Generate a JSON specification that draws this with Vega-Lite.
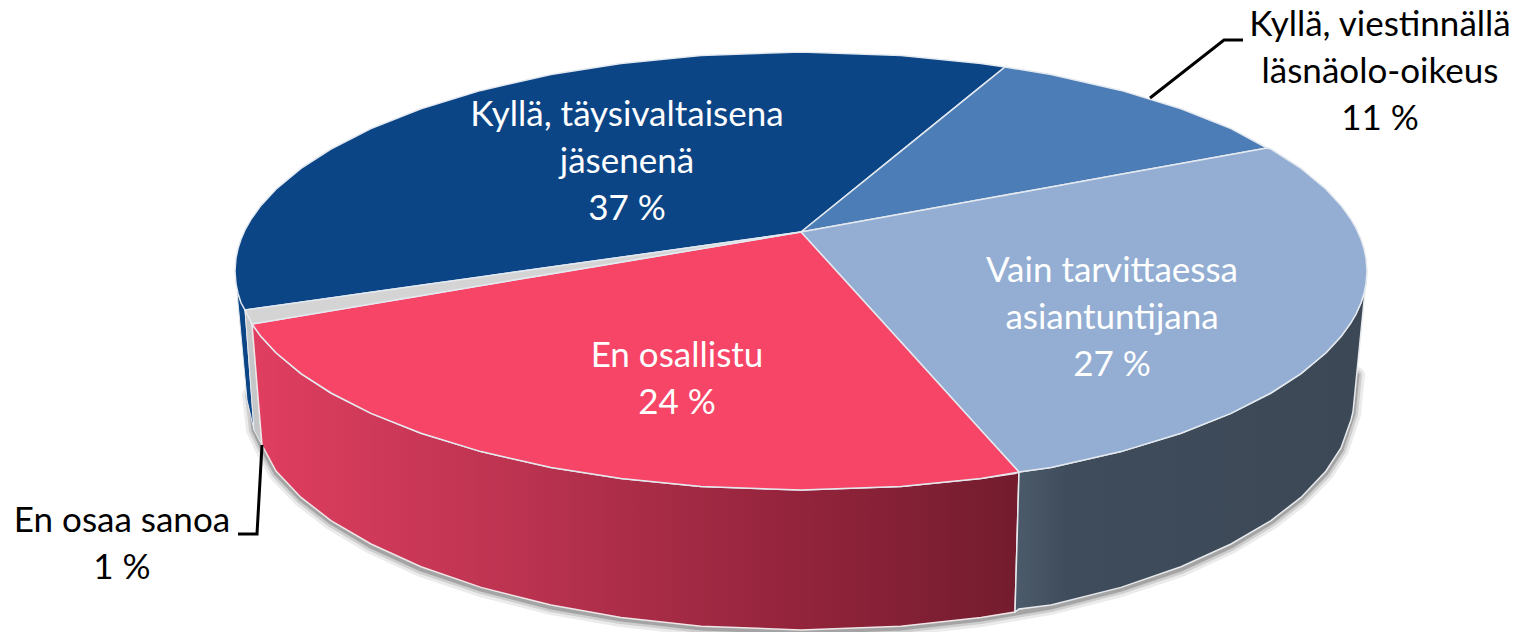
{"$schema":"https://vega.github.io/schema/vega-lite/v6.json","autosize":{"type":"none"},"width":1514,"height":632,"padding":0,"background":"white","config":{"view":{"stroke":null}},
"datasets":{
"faces":[
{"slice":"Kyllä, täysivaltaisena jäsenenä","x":235,"top":271,"bottom":271},{"slice":"Kyllä, täysivaltaisena jäsenenä","x":236,"top":258,"bottom":284},{"slice":"Kyllä, täysivaltaisena jäsenenä","x":238,"top":248.5,"bottom":293.5},{"slice":"Kyllä, täysivaltaisena jäsenenä","x":241,"top":239.2,"bottom":302.8},{"slice":"Kyllä, täysivaltaisena jäsenenä","x":245,"top":230,"bottom":310},{"slice":"Kyllä, täysivaltaisena jäsenenä","x":251,"top":219.3,"bottom":309.2},{"slice":"Kyllä, täysivaltaisena jäsenenä","x":261,"top":205.4,"bottom":307.8},{"slice":"Kyllä, täysivaltaisena jäsenenä","x":276,"top":189.2,"bottom":305.7},{"slice":"Kyllä, täysivaltaisena jäsenenä","x":301,"top":168.4,"bottom":302.2},{"slice":"Kyllä, täysivaltaisena jäsenenä","x":331,"top":149,"bottom":297.9},{"slice":"Kyllä, täysivaltaisena jäsenenä","x":371,"top":128.6,"bottom":292.3},{"slice":"Kyllä, täysivaltaisena jäsenenä","x":421,"top":108.7,"bottom":285.3},{"slice":"Kyllä, täysivaltaisena jäsenenä","x":481,"top":90.4,"bottom":276.9},{"slice":"Kyllä, täysivaltaisena jäsenenä","x":551,"top":74.5,"bottom":267.1},{"slice":"Kyllä, täysivaltaisena jäsenenä","x":621,"top":63.4,"bottom":257.3},{"slice":"Kyllä, täysivaltaisena jäsenenä","x":701,"top":55.4,"bottom":246},{"slice":"Kyllä, täysivaltaisena jäsenenä","x":801,"top":52,"bottom":232},{"slice":"Kyllä, täysivaltaisena jäsenenä","x":901,"top":55.4,"bottom":151.1},{"slice":"Kyllä, täysivaltaisena jäsenenä","x":981,"top":63.4,"bottom":86.4},{"slice":"Kyllä, täysivaltaisena jäsenenä","x":1005,"top":67,"bottom":67},
{"slice":"Kyllä, viestinnällä läsnäolo-oikeus","x":801,"top":232,"bottom":232},{"slice":"Kyllä, viestinnällä läsnäolo-oikeus","x":901,"top":151.1,"bottom":214},{"slice":"Kyllä, viestinnällä läsnäolo-oikeus","x":981,"top":86.4,"bottom":199.6},{"slice":"Kyllä, viestinnällä läsnäolo-oikeus","x":1005,"top":67,"bottom":195.2},{"slice":"Kyllä, viestinnällä läsnäolo-oikeus","x":1051,"top":74.5,"bottom":186.9},{"slice":"Kyllä, viestinnällä läsnäolo-oikeus","x":1121,"top":90.4,"bottom":174.3},{"slice":"Kyllä, viestinnällä läsnäolo-oikeus","x":1181,"top":108.7,"bottom":163.5},{"slice":"Kyllä, viestinnällä läsnäolo-oikeus","x":1231,"top":128.6,"bottom":154.5},{"slice":"Kyllä, viestinnällä läsnäolo-oikeus","x":1267,"top":148,"bottom":148},
{"slice":"Vain tarvittaessa asiantuntijana","x":801,"top":232,"bottom":232},{"slice":"Vain tarvittaessa asiantuntijana","x":901,"top":214,"bottom":342.1},{"slice":"Vain tarvittaessa asiantuntijana","x":981,"top":199.6,"bottom":430.2},{"slice":"Vain tarvittaessa asiantuntijana","x":1019,"top":192.7,"bottom":472},{"slice":"Vain tarvittaessa asiantuntijana","x":1051,"top":186.9,"bottom":467.5},{"slice":"Vain tarvittaessa asiantuntijana","x":1121,"top":174.3,"bottom":451.6},{"slice":"Vain tarvittaessa asiantuntijana","x":1181,"top":163.5,"bottom":433.3},{"slice":"Vain tarvittaessa asiantuntijana","x":1231,"top":154.5,"bottom":413.4},{"slice":"Vain tarvittaessa asiantuntijana","x":1267,"top":148,"bottom":395},{"slice":"Vain tarvittaessa asiantuntijana","x":1271,"top":149,"bottom":393},{"slice":"Vain tarvittaessa asiantuntijana","x":1301,"top":168.4,"bottom":373.6},{"slice":"Vain tarvittaessa asiantuntijana","x":1326,"top":189.2,"bottom":352.8},{"slice":"Vain tarvittaessa asiantuntijana","x":1341,"top":205.4,"bottom":336.6},{"slice":"Vain tarvittaessa asiantuntijana","x":1351,"top":219.3,"bottom":322.7},{"slice":"Vain tarvittaessa asiantuntijana","x":1356,"top":228,"bottom":314},{"slice":"Vain tarvittaessa asiantuntijana","x":1361,"top":239.2,"bottom":302.8},{"slice":"Vain tarvittaessa asiantuntijana","x":1364,"top":248.5,"bottom":293.5},{"slice":"Vain tarvittaessa asiantuntijana","x":1366,"top":258,"bottom":284},{"slice":"Vain tarvittaessa asiantuntijana","x":1367,"top":271,"bottom":271},
{"slice":"En osallistu","x":252,"top":324,"bottom":324},{"slice":"En osallistu","x":261,"top":322.5,"bottom":336.6},{"slice":"En osallistu","x":276,"top":320,"bottom":352.8},{"slice":"En osallistu","x":301,"top":315.8,"bottom":373.6},{"slice":"En osallistu","x":331,"top":310.8,"bottom":393},{"slice":"En osallistu","x":371,"top":304.1,"bottom":413.4},{"slice":"En osallistu","x":421,"top":295.7,"bottom":433.3},{"slice":"En osallistu","x":481,"top":285.6,"bottom":451.6},{"slice":"En osallistu","x":551,"top":273.9,"bottom":467.5},{"slice":"En osallistu","x":621,"top":262.2,"bottom":478.6},{"slice":"En osallistu","x":701,"top":248.8,"bottom":486.6},{"slice":"En osallistu","x":801,"top":232,"bottom":490},{"slice":"En osallistu","x":901,"top":342.1,"bottom":486.6},{"slice":"En osallistu","x":981,"top":430.2,"bottom":478.6},{"slice":"En osallistu","x":1019,"top":472,"bottom":472},
{"slice":"En osaa sanoa","x":245,"top":310,"bottom":310},{"slice":"En osaa sanoa","x":252,"top":309,"bottom":324},{"slice":"En osaa sanoa","x":801,"top":232,"bottom":232}],
"wallRed":[{"x":252,"top":324,"bottom":324},{"x":261,"top":336.6,"bottom":433},{"x":262,"top":337.6,"bottom":445},{"x":276,"top":352.8,"bottom":471},{"x":301,"top":373.6,"bottom":497.4},{"x":331,"top":393,"bottom":520.6},{"x":371,"top":413.4,"bottom":544},{"x":421,"top":433.3,"bottom":566.8},{"x":481,"top":451.6,"bottom":587.4},{"x":551,"top":467.5,"bottom":605},{"x":621,"top":478.6,"bottom":617.4},{"x":701,"top":486.6,"bottom":626.2},{"x":801,"top":490,"bottom":630},{"x":901,"top":486.6,"bottom":626.2},{"x":981,"top":478.6,"bottom":617.4},{"x":1015,"top":473.6,"bottom":612},{"x":1019,"top":472,"bottom":472}],
"wallDark":[{"x":1015,"top":612,"bottom":612},{"x":1019,"top":472,"bottom":609},{"x":1051,"top":467.5,"bottom":605},{"x":1121,"top":451.6,"bottom":587.4},{"x":1181,"top":433.3,"bottom":566.8},{"x":1231,"top":413.4,"bottom":544},{"x":1271,"top":393,"bottom":520.6},{"x":1301,"top":373.6,"bottom":497.4},{"x":1326,"top":352.8,"bottom":471},{"x":1341,"top":336.6,"bottom":448},{"x":1351,"top":322.7,"bottom":420},{"x":1353,"top":319,"bottom":412},{"x":1356,"top":314,"bottom":381.8},{"x":1361,"top":302.8,"bottom":331.4},{"x":1364,"top":293.5,"bottom":301.2},{"x":1366,"top":284,"bottom":281},{"x":1367,"top":271,"bottom":271}],
"wallGray":[{"x":245,"top":310,"bottom":310},{"x":252,"top":324,"bottom":403},{"x":254,"top":348,"bottom":430},{"x":262,"top":445,"bottom":445}],
"wallBlue":[{"x":237,"top":292,"bottom":292},{"x":245,"top":310,"bottom":378},{"x":247,"top":336.7,"bottom":400},{"x":254,"top":430,"bottom":430}],
"edge":[{"step":1,"x":250,"y":395},{"step":2,"x":254,"y":430},{"step":3,"x":262,"y":447},{"step":4,"x":276,"y":473},{"step":5,"x":301,"y":499},{"step":6,"x":331,"y":522},{"step":7,"x":371,"y":546},{"step":8,"x":421,"y":569},{"step":9,"x":481,"y":589},{"step":10,"x":551,"y":607},{"step":11,"x":621,"y":619},{"step":12,"x":701,"y":628},{"step":13,"x":801,"y":632},{"step":14,"x":901,"y":628},{"step":15,"x":981,"y":619},{"step":16,"x":1051,"y":607},{"step":17,"x":1121,"y":589},{"step":18,"x":1181,"y":569},{"step":19,"x":1231,"y":546},{"step":20,"x":1271,"y":522},{"step":21,"x":1301,"y":499},{"step":22,"x":1326,"y":473},{"step":23,"x":1341,"y":450},{"step":24,"x":1353,"y":414},{"step":25,"x":1357,"y":375}],
"leaders":[{"label":"Kyllä, viestinnällä","step":1,"x":1150,"y":98},{"label":"Kyllä, viestinnällä","step":2,"x":1224,"y":40},{"label":"Kyllä, viestinnällä","step":3,"x":1243,"y":40},{"label":"En osaa sanoa","step":1,"x":262,"y":445},{"label":"En osaa sanoa","step":2,"x":257,"y":534},{"label":"En osaa sanoa","step":3,"x":238,"y":534}],
"labelsIn":[{"label":"Kyllä, täysivaltaisena\njäsenenä\n37 %","x":627,"y":115},{"label":"Vain tarvittaessa\nasiantuntijana\n27 %","x":1112,"y":271},{"label":"En osallistu\n24 %","x":677,"y":356}],
"labelsOut":[{"label":"Kyllä, viestinnällä\nläsnäolo-oikeus\n11 %","x":1380,"y":25},{"label":"En osaa sanoa\n1 %","x":122,"y":521}]},
"encoding":{"x":{"field":"x","type":"quantitative","scale":{"domain":[0,1514],"nice":false,"zero":false},"axis":null}},
"layer":[
{"data":{"name":"edge"},"mark":{"type":"line","stroke":"#000","opacity":0.08,"strokeWidth":16,"strokeCap":"round"},"encoding":{"y":{"field":"y","type":"quantitative","scale":{"domain":[632,0],"nice":false,"zero":false},"axis":null},"order":{"field":"step"}}},
{"data":{"name":"edge"},"mark":{"type":"line","stroke":"#000","opacity":0.12,"strokeWidth":10,"strokeCap":"round"},"encoding":{"y":{"field":"y","type":"quantitative","scale":{"domain":[632,0],"nice":false,"zero":false},"axis":null},"order":{"field":"step"}}},
{"data":{"name":"edge"},"mark":{"type":"line","stroke":"#000","opacity":0.2,"strokeWidth":5,"strokeCap":"round"},"encoding":{"y":{"field":"y","type":"quantitative","scale":{"domain":[632,0],"nice":false,"zero":false},"axis":null},"order":{"field":"step"}}},
{"data":{"name":"wallBlue"},"mark":{"type":"area","fill":"#0b4586","stroke":"#e6e9ee","strokeWidth":1},"encoding":{"y":{"field":"top","type":"quantitative","scale":{"domain":[632,0],"nice":false,"zero":false},"axis":null},"y2":{"field":"bottom"}}},
{"data":{"name":"wallGray"},"mark":{"type":"area","fill":"#c4c6c8","stroke":"#e6e9ee","strokeWidth":1},"encoding":{"y":{"field":"top","type":"quantitative","scale":{"domain":[632,0],"nice":false,"zero":false},"axis":null},"y2":{"field":"bottom"}}},
{"data":{"name":"wallRed"},"mark":{"type":"area","fill":{"gradient":"linear","x1":0,"y1":0,"x2":1,"y2":0,"stops":[{"offset":0,"color":"#e03e60"},{"offset":0.35,"color":"#bb3350"},{"offset":0.7,"color":"#94243c"},{"offset":1,"color":"#731c2e"}]},"stroke":"#f0e6e8","strokeWidth":1.5},"encoding":{"y":{"field":"top","type":"quantitative","scale":{"domain":[632,0],"nice":false,"zero":false},"axis":null},"y2":{"field":"bottom"}}},
{"data":{"name":"wallDark"},"mark":{"type":"area","fill":{"gradient":"linear","x1":0,"y1":0,"x2":1,"y2":0,"stops":[{"offset":0,"color":"#4c5b6b"},{"offset":0.15,"color":"#3f4c5b"},{"offset":1,"color":"#3c4856"}]},"stroke":"#e8ebee","strokeWidth":1.5},"encoding":{"y":{"field":"top","type":"quantitative","scale":{"domain":[632,0],"nice":false,"zero":false},"axis":null},"y2":{"field":"bottom"}}},
{"data":{"name":"faces"},"mark":{"type":"area","stroke":"#e4e9f0","strokeWidth":1.5},"encoding":{"y":{"field":"top","type":"quantitative","scale":{"domain":[632,0],"nice":false,"zero":false},"axis":null},"y2":{"field":"bottom"},"color":{"field":"slice","type":"nominal","legend":null,"scale":{"domain":["Kyllä, täysivaltaisena jäsenenä","Kyllä, viestinnällä läsnäolo-oikeus","Vain tarvittaessa asiantuntijana","En osallistu","En osaa sanoa"],"range":["#0b4586","#4c7db6","#93aed2","#f64566","#d4d4d4"]}}}},
{"data":{"name":"leaders"},"mark":{"type":"line","stroke":"#000","strokeWidth":3},"encoding":{"y":{"field":"y","type":"quantitative","scale":{"domain":[632,0],"nice":false,"zero":false},"axis":null},"detail":{"field":"label"},"order":{"field":"step"}}},
{"data":{"name":"labelsIn"},"mark":{"type":"text","font":"Lato","fontSize":35,"lineHeight":47,"lineBreak":"\n","align":"center","baseline":"middle","fill":"#ffffff"},"encoding":{"y":{"field":"y","type":"quantitative","scale":{"domain":[632,0],"nice":false,"zero":false},"axis":null},"text":{"field":"label"}}},
{"data":{"name":"labelsOut"},"mark":{"type":"text","font":"Lato","fontSize":35,"lineHeight":47,"lineBreak":"\n","align":"center","baseline":"middle","fill":"#000000"},"encoding":{"y":{"field":"y","type":"quantitative","scale":{"domain":[632,0],"nice":false,"zero":false},"axis":null},"text":{"field":"label"}}}
]}
